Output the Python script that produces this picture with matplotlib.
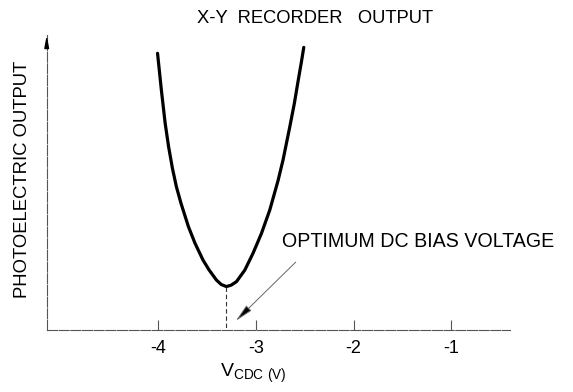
import matplotlib
matplotlib.use("Agg")
import matplotlib.pyplot as plt
import numpy as np

plt.rcParams['font.family'] = ['Liberation Sans', 'DejaVu Sans']
plt.rcParams['mathtext.fontset'] = 'custom'
plt.rcParams['mathtext.rm'] = 'Liberation Sans'

# Curve (bias voltage in V, output in arbitrary units)
bias_v = [-4.006, -3.967, -3.928, -3.893, -3.854, -3.813, -3.766, -3.690, -3.623,
          -3.541, -3.478, -3.403, -3.354, -3.301, -3.252, -3.198, -3.113, -3.029,
          -2.943, -2.858, -2.773, -2.722, -2.653, -2.606, -2.566, -2.534, -2.510]
output = [93.8, 81.4, 70.1, 62.2, 54.9, 48.6, 43.0, 35.1, 29.5,
          23.8, 20.4, 17.0, 15.5, 14.8, 15.3, 16.5, 20.4, 26.1,
          32.8, 40.7, 50.7, 57.7, 68.9, 76.9, 84.8, 90.9, 95.8]

x_ticks = [-4, -3, -2, -1]
x_tick_labels = ['-4', '-3', '-2', '-1']
x_range = (-5.14, -0.40)
y_range = (0, 100)

title_text = 'X-Y  RECORDER   OUTPUT'
y_label = 'PHOTOELECTRIC OUTPUT'
annot_text = 'OPTIMUM DC BIAS VOLTAGE'
annot_tip = (-3.205, 3.2)
annot_tail = (-2.592, 23.1)

W, H = 573, 392
fig = plt.figure(figsize=(W / 100, H / 100), dpi=100)
ax = fig.add_axes([46.7 / W, 1 - 330.3 / H, (510 - 46.7) / W, (330.3 - 35) / H])
ax.set_xlim(*x_range)
ax.set_ylim(*y_range)

axis_col = '#555555'
for s in ['top', 'right']:
    ax.spines[s].set_visible(False)
for s in ['left', 'bottom']:
    ax.spines[s].set_color(axis_col)
    ax.spines[s].set_linewidth(0.8)
    ax.spines[s].set_linestyle((0, (9, 1.5)))

ax.set_yticks([])
ax.set_xticks(x_ticks)
ax.set_xticklabels(x_tick_labels, fontsize=13)
ax.tick_params(axis='x', direction='in', length=7, width=0.8, color=axis_col, pad=7)

# y-axis arrow head
ax.annotate('', xy=(0, 1.0), xytext=(0, 0.955), xycoords='axes fraction',
            arrowprops=dict(arrowstyle='-|>,head_length=0.7,head_width=0.13',
                            color='black', lw=1.0, shrinkA=0, shrinkB=0),
            annotation_clip=False)

# main trace
ax.plot(bias_v, output, color='black', lw=2.3, solid_capstyle='round',
        solid_joinstyle='round', clip_on=False)

# dashed marker from the minimum to the axis
imin = int(np.argmin(output))
ax.plot([bias_v[imin], bias_v[imin]], [output[imin], 0], color='#333333',
        lw=0.8, ls=(0, (4, 2.5)))

# pointer arrow
ax.annotate('', xy=annot_tip, xytext=annot_tail,
            arrowprops=dict(arrowstyle='-|>,head_length=1.1,head_width=0.22',
                            fc='black', ec='#666666', lw=0.7,
                            shrinkA=0, shrinkB=0))

fig.text(315 / W, 1 - 18.5 / H, title_text, ha='center', va='center', fontsize=13.2)
fig.text(418.5 / W, 1 - 241.5 / H, annot_text, ha='center', va='center', fontsize=14.1)
fig.text(22.5 / W, 1 - 179 / H, y_label, ha='center', va='center', rotation=90,
         fontsize=13.3)
fig.text(253 / W, 1 - 373 / H, r'V$_{\mathrm{CDC\ (V)}}$', ha='center', va='center',
         fontsize=14)

fig.savefig('out.png', dpi=100)
